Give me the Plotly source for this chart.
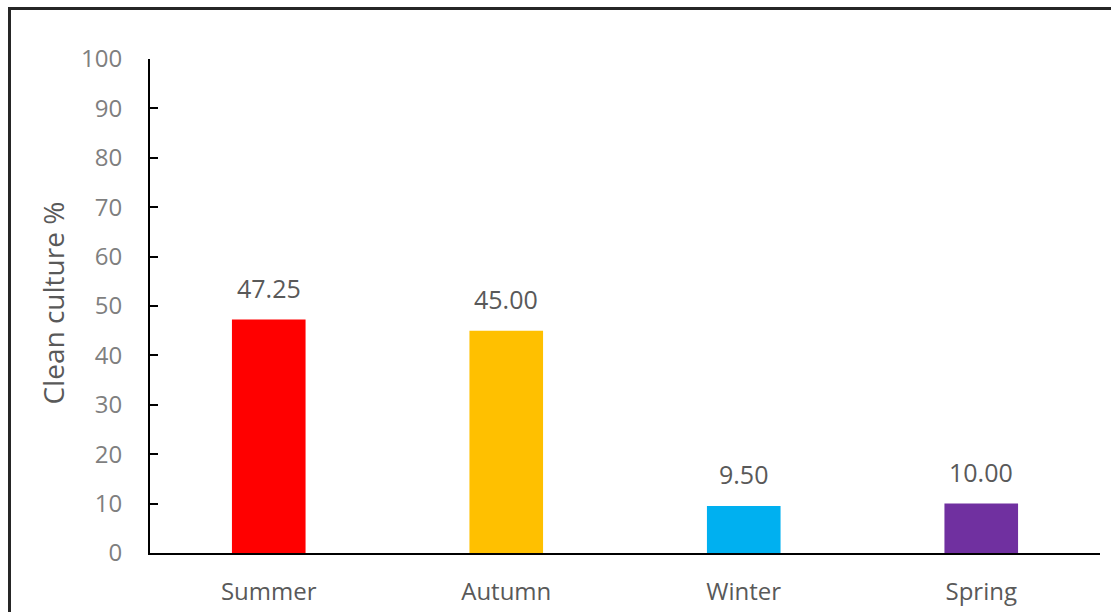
import plotly.graph_objects as go

categories = ["Summer", "Autumn", "Winter", "Spring"]
values = [47.25, 45.00, 9.50, 10.00]
labels = ["47.25", "45.00", "9.50", "10.00"]
colors = ["#FF0000", "#FFC000", "#00B0F0", "#7030A0"]
y_ticks = [0, 10, 20, 30, 40, 50, 60, 70, 80, 90, 100]

FONT = "Open Sans"
GRAY = "#7F7F7F"
DARK = "#595959"

L, R, T, B = 150, 11, 59, 59
W, H = 1111, 612
PW, PH = W - L - R, H - T - B

fig = go.Figure()
fig.add_trace(go.Bar(x=categories, y=values, marker=dict(color=colors, line=dict(width=0)), width=0.31))

for c, v, t in zip(categories, values, labels):
    fig.add_annotation(x=c, y=v, text=t, showarrow=False, yanchor="bottom", yshift=13,
                       font=dict(family=FONT, size=25, color=DARK))

fig.add_annotation(xref="paper", yref="paper", x=(53 - L) / PW, y=0.505, xanchor="center", yanchor="middle",
                   text="Clean culture %", textangle=-90, showarrow=False,
                   font=dict(family=FONT, size=28, color=DARK))

fig.update_layout(
    width=W, height=H,
    margin=dict(l=L, r=R, t=T, b=B, autoexpand=False),
    paper_bgcolor="white", plot_bgcolor="white",
    showlegend=False,
    xaxis=dict(showline=True, linecolor="black", linewidth=2, ticks="", showgrid=False, automargin=False,
               tickfont=dict(family=FONT, size=24, color=DARK), ticklabelstandoff=16),
    yaxis=dict(range=[0, 100], tickvals=y_ticks, showline=True, linecolor="black", linewidth=2,
               ticks="inside", ticklen=8, tickwidth=2, tickcolor="black", showgrid=False, zeroline=False,
               automargin=False,
               tickfont=dict(family=FONT, size=24, color=GRAY), ticklabelstandoff=21),
    shapes=[dict(type="rect", xref="paper", yref="paper", x0=(9.5 - L) / PW, x1=1.2,
                 y0=-0.3, y1=1 + (T - 8.5) / PH, line=dict(color="#262626", width=3), layer="above")],
)

fig.write_html("out.html", config={"displayModeBar": False},
               post_script="document.body.style.margin='0';document.body.style.overflow='hidden';")
